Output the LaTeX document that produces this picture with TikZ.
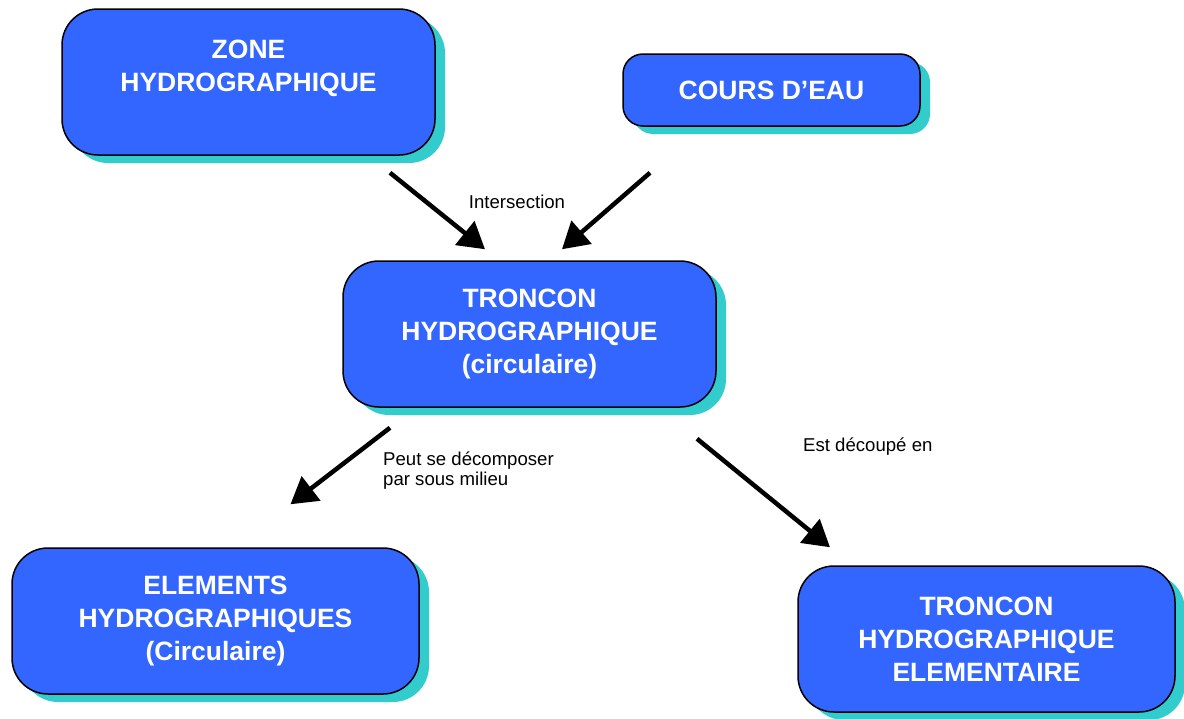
\documentclass[tikz,border=0pt]{standalone}
\usepackage{fontspec}
\setmainfont{Liberation Sans}
\usepackage{tikz}
\usetikzlibrary{arrows.meta,shadows}
\definecolor{boxblue}{HTML}{3366FF}
\definecolor{boxteal}{HTML}{33CCCC}

\tikzset{
  entity/.style={draw=black, line width=1.5pt, fill=boxblue, rounded corners=36pt,
    drop shadow={shadow xshift=10pt, shadow yshift=-8pt, fill=boxteal, opacity=1},
    text=white, align=center, inner sep=0pt,
    font=\bfseries\fontsize{26.5}{33}\selectfont},
  link/.style={-{Triangle[length=26pt, width=30pt]}, line width=4.5pt, black},
  linklabel/.style={font=\fontsize{18.6}{20}\selectfont, inner sep=0pt}
}

\begin{document}
\begin{tikzpicture}[x=1pt, y=-1pt]
                \useasboundingbox (0,0) rectangle (1184,718);

                % Boxes
                \node[entity, minimum width=373pt, minimum height=146pt] (zone) at (248.5,82) {ZONE\\HYDROGRAPHIQUE\\~};
                \node[entity, rounded corners=20pt, minimum width=297pt, minimum height=72pt] (cours) at (771.5,90) {COURS D’EAU};
                \node[entity, minimum width=373pt, minimum height=146pt] (troncon) at (529.5,334) {TRONCON\\HYDROGRAPHIQUE\\(circulaire)};
                \node[entity, minimum width=407pt, minimum height=146pt] (elements) at (215.5,621) {ELEMENTS\\HYDROGRAPHIQUES\\(Circulaire)};
                \node[entity, minimum width=377pt, minimum height=146pt] (elementaire) at (986.5,639) {TRONCON\\HYDROGRAPHIQUE\\ELEMENTAIRE};

                % Labels
                \node[linklabel] (inter) at (517,202) {Intersection};
                \node[linklabel, anchor=west, align=left] (decomp) at (383,471) {Peut se décomposer\\par sous milieu};
                \node[linklabel, anchor=west] (decoupe) at (803,447) {Est découpé en};

                % Arrows
                \draw[link] ([shift={(141.5,17)}]zone.south) -- ([shift={(-44.5,-11)}]troncon.north);
                \draw[link] ([shift={(-121.5,46)}]cours.south) -- ([shift={(32.5,-11)}]troncon.north);
                \draw[link] ([shift={(-139.5,20)}]troncon.south) -- ([shift={(75,-43)}]elements.north);
                \draw[link] ([shift={(167.5,31)}]troncon.south) -- ([shift={(-156.5,-18)}]elementaire.north);
            \end{tikzpicture}
\end{document}
